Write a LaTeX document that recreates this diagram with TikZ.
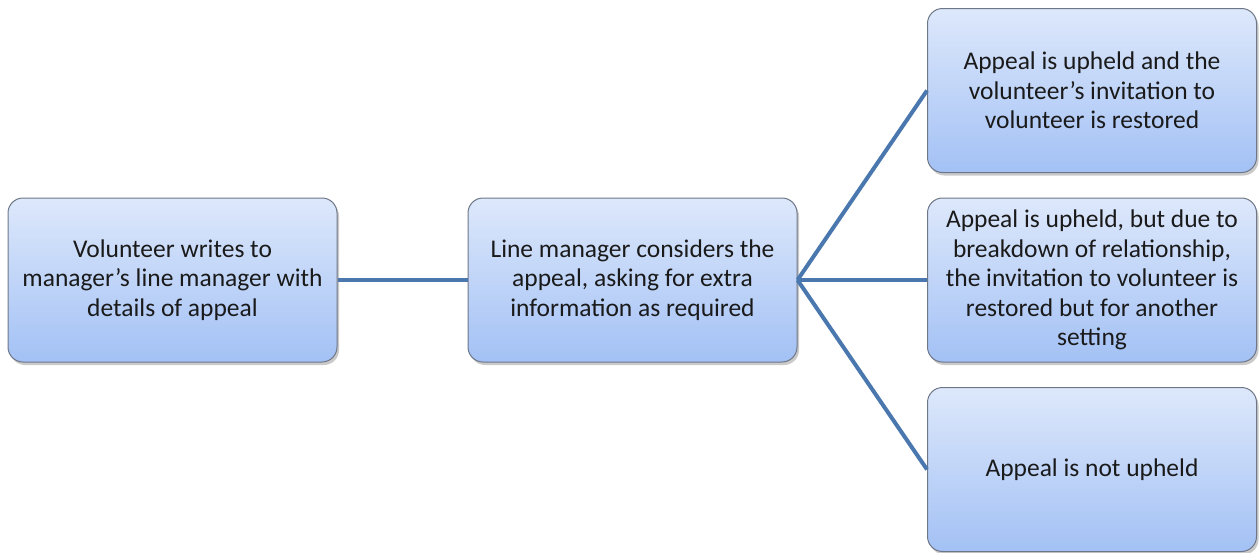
\documentclass[tikz,border=0pt]{standalone}
\usepackage{fontspec}
\setmainfont{Carlito}
\usetikzlibrary{shadows}
\definecolor{boxtop}{HTML}{DDE8FB}
\definecolor{boxbottom}{HTML}{A3C1F5}
\definecolor{boxedge}{HTML}{6E7787}
\definecolor{linkblue}{HTML}{4A78AE}
\definecolor{inktext}{HTML}{1A1A1A}
\tikzset{
  flowbox/.style={rectangle, rounded corners=15pt, draw=boxedge, line width=1pt,
    top color=boxtop, bottom color=boxbottom,
    minimum width=329pt, minimum height=164pt, inner sep=0pt,
    align=center, text=inktext,
    font=\fontsize{25.5pt}{29.5pt}\selectfont,
    drop shadow={shadow xshift=2pt, shadow yshift=-3pt, opacity=0.35, fill=black!60}},
  link/.style={draw=linkblue, line width=4pt}
}
\begin{document}
\begin{tikzpicture}[x=1pt, y=-1pt]
\useasboundingbox (0,0) rectangle (1260,552);
\node[flowbox] (start) at (172.5,280) {Volunteer writes to\\manager’s line manager with\\details of appeal};
\node[flowbox] (review) at (632.5,280) {Line manager considers the\\appeal, asking for extra\\information as required};
\node[flowbox] (full) at (1092,90.5) {Appeal is upheld and the\\volunteer’s invitation to\\volunteer is restored};
\node[flowbox] (moved) at (1092,280) {Appeal is upheld, but due to\\breakdown of relationship,\\the invitation to volunteer is\\restored but for another\\setting};
\node[flowbox] (denied) at (1092,469.5) {Appeal is not upheld};
\draw[link] (start.east) -- (review.west);
\draw[link] (review.east) -- (full.west);
\draw[link] (review.east) -- (moved.west);
\draw[link] (review.east) -- (denied.west);
\end{tikzpicture}
\end{document}
